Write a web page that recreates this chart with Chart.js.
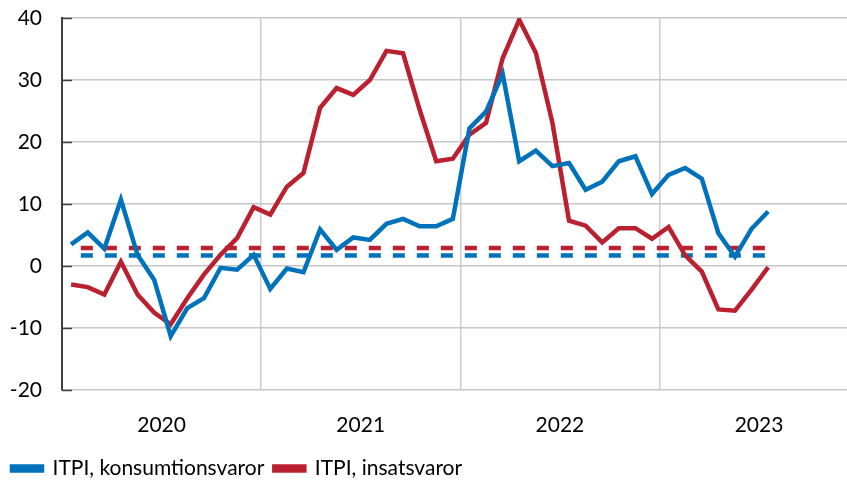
<!DOCTYPE html>
<html>
<head>
<meta charset="utf-8">
<script src="https://cdn.jsdelivr.net/npm/chart.js@4"></script>
<style>
  html, body { margin: 0; padding: 0; background: #fff; }
  #wrap { width: 847px; height: 480px; position: relative; }
</style>
</head>
<body>
<div id="wrap"><canvas id="chart"></canvas></div>
<script>
// monthly values, Jan 2020 - Jul 2023
const consumerGoods = [3.5, 5.4, 2.8, 10.7, 1.8, -2.2, -11.3, -6.8, -5.2, -0.3, -0.6, 1.8,
    -3.7, -0.4, -1.0, 5.9, 2.6, 4.6, 4.2, 6.8, 7.6, 6.4, 6.4, 7.6,
    22.2, 24.9, 31.0, 16.9, 18.6, 16.1, 16.6, 12.3, 13.6, 16.9, 17.7, 11.6,
    14.7, 15.8, 14.1, 5.3, 1.5, 6.0, 8.8];
const inputGoods = [-3.0, -3.4, -4.6, 0.7, -4.6, -7.5, -9.4, -5.2, -1.4, 1.8, 4.5, 9.5,
    8.3, 12.8, 15.0, 25.5, 28.7, 27.6, 30.0, 34.7, 34.3, 25.2, 16.9, 17.3,
    21.2, 23.1, 33.5, 39.7, 34.4, 23.1, 7.3, 6.5, 3.8, 6.1, 6.1, 4.4,
    6.3, 1.7, -0.9, -7.0, -7.2, -3.8, -0.2];
// averages (dashed)
const consumerAvg = 1.7;
const inputAvg = 2.9;
const years = ['2020', '2021', '2022', '2023'];
const yTicks = [-20, -10, 0, 10, 20, 30, 40];

const BLUE = 'rgb(0,114,187)';
const RED = 'rgb(186,32,47)';
const FONT = "Lato, 'Noto Sans', sans-serif";

const pts = arr => arr.map((v, i) => ({ x: i + 0.55, y: v }));
const avgLine = (v, n) => [{ x: 0.55, y: v }, { x: n - 1 + 0.55, y: v }];

// short dark tick marks inside the plot at each y tick
const innerTicks = {
    id: 'innerTicks',
    afterDraw(chart) {
        const { ctx, chartArea, scales } = chart;
        ctx.save();
        ctx.strokeStyle = '#404040';
        ctx.lineWidth = 1.5;
        yTicks.forEach(v => {
            const y = Math.round(scales.y.getPixelForValue(v)) + 0.5;
            ctx.beginPath();
            ctx.moveTo(chartArea.left, y);
            ctx.lineTo(chartArea.left + 10, y);
            ctx.stroke();
        });
        ctx.restore();
    }
};

new Chart(document.getElementById('chart'), {
    type: 'line',
    data: {
        datasets: [
            {
                label: 'ITPI, konsumtionsvaror',
                data: pts(consumerGoods),
                borderColor: BLUE,
                backgroundColor: BLUE,
                borderWidth: 4.5,
                pointRadius: 0,
                order: 1
            },
            {
                label: 'ITPI, insatsvaror',
                data: pts(inputGoods),
                borderColor: RED,
                backgroundColor: RED,
                borderWidth: 4.5,
                pointRadius: 0,
                order: 2
            },
            {
                label: 'avg1',
                data: avgLine(inputAvg, inputGoods.length),
                borderColor: RED,
                borderWidth: 4.5,
                borderDash: [12, 12],
                borderDashOffset: 14.3,
                pointRadius: 0,
                order: 3
            },
            {
                label: 'avg2',
                data: avgLine(consumerAvg, consumerGoods.length),
                borderColor: BLUE,
                borderWidth: 4.5,
                borderDash: [12, 12],
                borderDashOffset: 14.3,
                pointRadius: 0,
                order: 3
            }
        ]
    },
    options: {
        responsive: true,
        maintainAspectRatio: false,
        animation: false,
        layout: { padding: { top: 18, right: 0, left: 2, bottom: -9 } },
        plugins: {
            tooltip: { enabled: false },
            legend: {
                position: 'bottom',
                align: 'start',
                labels: {
                    filter: item => !item.text.startsWith('avg'),
                    boxWidth: 30,
                    boxHeight: 4,
                    color: '#000',
                    padding: 10,
                    font: { family: FONT, size: 21 }
                }
            }
        },
        scales: {
            x: {
                type: 'linear',
                min: 0,
                max: 47.3,
                afterBuildTicks: s => {
                    s.ticks = [6, 12, 18, 24, 30, 36, 42].map(v => ({ value: v }));
                },
                afterFit: s => { s.height = 58; },
                ticks: {
                    autoSkip: false,
                    maxRotation: 0,
                    padding: 23,
                    color: '#000',
                    font: { family: FONT, size: 21 },
                    callback: v => (v % 12 === 6 ? years[(v - 6) / 12] : '')
                },
                grid: {
                    drawTicks: false,
                    lineWidth: 1.5,
                    color: ctx => (ctx.tick && ctx.tick.value % 12 === 0 ? '#cccccc' : 'rgba(0,0,0,0)')
                },
                border: { display: false }
            },
            y: {
                min: -20,
                max: 40,
                afterBuildTicks: s => {
                    s.ticks = yTicks.map(v => ({ value: v }));
                },
                afterFit: s => {
                    s.width = 60;
                    s.paddingTop = 0;
                    s.paddingBottom = 0;
                },
                ticks: {
                    padding: 20,
                    color: '#000',
                    font: { family: FONT, size: 21 }
                },
                grid: {
                    drawTicks: false,
                    lineWidth: 1.5,
                    color: '#c6c6c6'
                },
                border: { display: true, color: '#404040', width: 2 }
            }
        }
    },
    plugins: [innerTicks]
});
</script>
</body>
</html>
